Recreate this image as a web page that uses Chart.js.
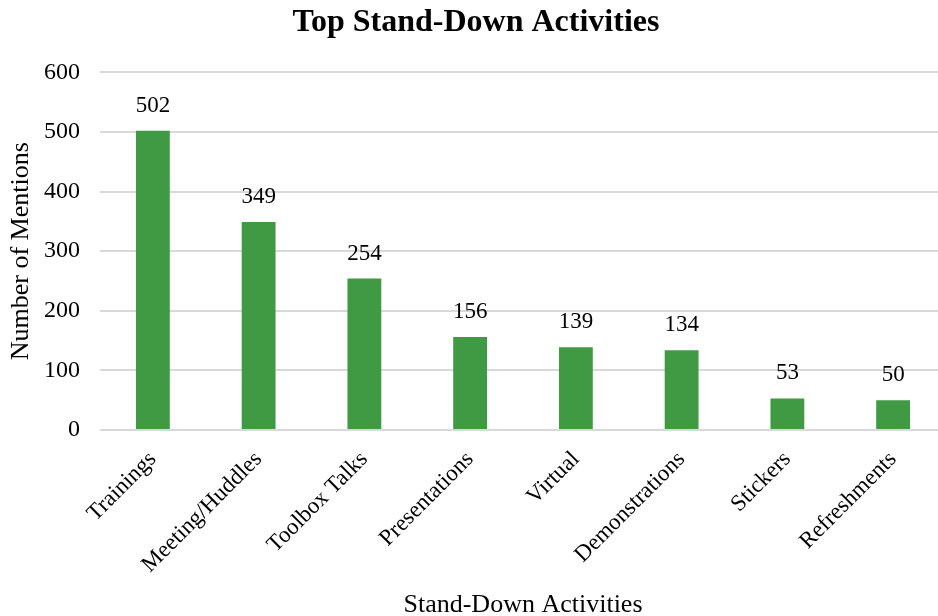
<!DOCTYPE html>
<html>
<head>
<meta charset="utf-8">
<script src="https://cdn.jsdelivr.net/npm/chart.js@4"></script>
<style>
    html, body { margin: 0; padding: 0; background: #fff; overflow: hidden; }
    #wrap { width: 946px; height: 616px; }
</style>
</head>
<body>
<div id="wrap"><canvas id="chart"></canvas></div>
<script>
// Datos
const categories = ['Trainings', 'Meeting/Huddles', 'Toolbox Talks', 'Presentations', 'Virtual', 'Demonstrations', 'Stickers', 'Refreshments'];
const mentions = [502, 349, 254, 156, 139, 134, 53, 50];
const yTicks = [0, 100, 200, 300, 400, 500, 600];

const FONT = "'Liberation Serif', 'Times New Roman', serif";
const BAR_COLOR = '#3f9a43';
const GRID_COLOR = '#d9d9d9';

// etiquetas de valor encima de cada barra
const valueLabels = {
    id: 'valueLabels',
    afterDatasetsDraw(chart) {
        const ctx = chart.ctx;
        const meta = chart.getDatasetMeta(0);
        ctx.save();
        ctx.font = `23px ${FONT}`;
        ctx.fillStyle = '#000';
        ctx.textAlign = 'center';
        ctx.textBaseline = 'middle';
        meta.data.forEach((bar, i) => {
            ctx.fillText(String(mentions[i]), bar.x, bar.y - 25);
        });
        ctx.restore();
    }
};

new Chart(document.getElementById('chart'), {
    type: 'bar',
    data: {
        labels: categories,
        datasets: [{
            data: mentions,
            backgroundColor: BAR_COLOR,
            borderWidth: 0,
            barPercentage: 0.32,
            categoryPercentage: 1
        }]
    },
    options: {
        responsive: true,
        maintainAspectRatio: false,
        animation: false,
        layout: { padding: { left: 6, right: 0, top: 0, bottom: 0 } },
        plugins: {
            legend: { display: false },
            tooltip: { enabled: false },
            title: {
                display: true,
                text: 'Top Stand-Down Activities',
                color: '#000',
                font: { family: FONT, size: 32, weight: 'bold' },
                padding: { top: 4, bottom: 30 }
            }
        },
        scales: {
            x: {
                afterFit: axis => { axis.height = 186; },
                grid: { display: false },
                border: { display: false },
                ticks: {
                    color: '#000',
                    font: { family: FONT, size: 23 },
                    maxRotation: 45,
                    minRotation: 45,
                    padding: 8
                },
                title: {
                    display: true,
                    text: 'Stand-Down Activities',
                    color: '#000',
                    font: { family: FONT, size: 26 },
                    padding: { top: 0, bottom: -5 }
                }
            },
            y: {
                min: 0,
                max: 600,
                afterBuildTicks: axis => { axis.ticks = yTicks.map(v => ({ value: v })); },
                afterFit: axis => { axis.width = 94; },
                grid: { color: GRID_COLOR, lineWidth: 2, drawTicks: false },
                border: { display: false },
                ticks: {
                    color: '#000',
                    font: { family: FONT, size: 24 },
                    padding: 20
                },
                title: {
                    display: true,
                    text: 'Number of Mentions',
                    color: '#000',
                    font: { family: FONT, size: 26 },
                    padding: { top: 0, bottom: 6 }
                }
            }
        }
    },
    plugins: [valueLabels]
});
</script>
</body>
</html>
